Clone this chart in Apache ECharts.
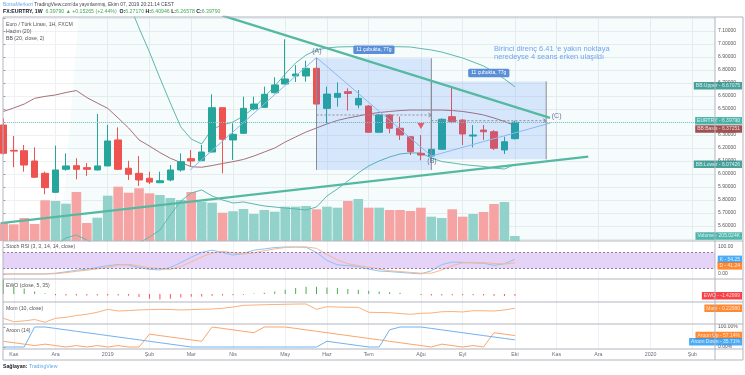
<!DOCTYPE html>
<html>
<head>
<meta charset="utf-8">
<script src="https://cdn.jsdelivr.net/npm/echarts@6/dist/echarts.min.js"></script>
<style>
html,body{margin:0;padding:0;background:#fff}
#chart{width:745px;height:375px}
</style>
</head>
<body>
<div id="chart"></div>
<script>
// weekly bars, first one is the week of 2018-10-28
const firstWeek = '2018-10-28';
const monthLabelWeeks = ['2018-11-04','2018-12-02','2019-01-06','2019-02-03','2019-03-03','2019-03-31','2019-05-05','2019-06-02','2019-06-30','2019-08-04','2019-09-01','2019-10-06','2019-11-03','2019-12-01','2020-01-05','2020-02-02'];
const monthLabels = ['Kas','Ara','2019','Şub','Mar','Nis','May','Haz','Tem','Ağu','Eyl','Eki','Kas','Ara','2020','Şub'];

const opens  = [6.377,6.182,6.179,6.100,6.005,5.859,6.036,6.064,6.049,6.031,6.062,6.262,6.044,6.005,5.967,5.933,5.954,6.031,6.118,6.102,6.169,6.510,6.262,6.313,6.500,6.513,6.625,6.692,6.754,6.754,6.813,6.505,6.590,6.633,6.531,6.523,6.321,6.454,6.352,6.287,6.159,6.138,6.190,6.441,6.415,6.292,6.338,6.325,6.185,6.2717];
const highs  = [6.428,6.292,6.223,6.205,6.018,6.218,6.159,6.121,6.084,6.462,6.377,6.359,6.102,6.138,6.018,6.018,6.069,6.159,6.185,6.223,6.613,6.512,6.390,6.595,6.595,6.672,6.744,7.036,6.838,6.872,6.890,6.672,6.705,6.659,6.646,6.530,6.462,6.462,6.441,6.290,6.300,6.195,6.428,6.667,6.423,6.377,6.377,6.338,6.287,6.40946];
const lows   = [6.150,6.052,6.018,5.970,5.844,5.855,6.025,5.959,5.985,6.028,6.060,6.030,5.954,5.908,5.923,5.930,5.944,6.018,6.062,6.100,6.165,6.005,6.108,6.310,6.490,6.510,6.620,6.690,6.708,6.710,6.535,6.390,6.518,6.487,6.505,6.318,6.318,6.313,6.262,6.146,6.105,6.120,6.185,6.390,6.223,6.205,6.262,6.185,6.154,6.26578];
const closes = [6.159,6.176,6.069,5.975,5.895,6.031,6.062,6.036,6.036,6.062,6.254,6.036,5.998,5.954,5.938,5.948,6.031,6.095,6.100,6.169,6.510,6.267,6.305,6.505,6.538,6.613,6.685,6.731,6.769,6.813,6.538,6.615,6.620,6.620,6.582,6.321,6.454,6.352,6.300,6.172,6.146,6.190,6.421,6.402,6.308,6.300,6.325,6.198,6.248,6.3979];
const volumesK = [752,686,945,698,1672,1643,1532,2012,739,957,1860,2230,1984,2164,1959,1889,1766,1684,2012,1614,1573,1162,1220,1314,1109,1273,1203,1409,1409,1437,1302,1409,1368,1643,1725,1368,1368,1273,1273,1232,1368,998,945,1302,998,1109,1191,1520,1602,205.024];

const bbUpper = [7.95,7.98,8.00,7.98,7.95,7.90,7.85,7.80,7.72,7.62,7.50,7.40,7.32,7.123,6.938,6.738,6.546,6.362,6.269,6.231,6.346,6.377,6.400,6.446,6.508,6.592,6.677,6.769,6.854,6.915,6.954,6.969,6.977,6.979,6.979,6.979,6.979,6.979,6.979,6.977,6.965,6.954,6.938,6.915,6.892,6.862,6.831,6.785,6.731,6.67075];
const bbBasis = [6.481,6.508,6.538,6.582,6.597,6.608,6.627,6.642,6.588,6.546,6.505,6.431,6.354,6.262,6.215,6.165,6.121,6.088,6.056,6.052,6.065,6.081,6.095,6.112,6.138,6.169,6.200,6.246,6.285,6.323,6.354,6.385,6.412,6.431,6.446,6.462,6.473,6.481,6.488,6.492,6.492,6.492,6.492,6.488,6.481,6.469,6.454,6.431,6.404,6.37251];
const bbLower = [5.20,5.25,5.30,5.35,5.40,5.45,5.508,5.531,5.492,5.45,5.40,5.35,5.35,5.469,5.515,5.569,5.685,5.792,5.854,5.877,5.831,5.800,5.777,5.785,5.769,5.754,5.746,5.738,5.731,5.723,5.746,5.831,5.885,5.946,6.008,6.062,6.100,6.131,6.154,6.162,6.162,6.123,6.096,6.085,6.073,6.065,6.058,6.046,6.038,6.07426];

const stochK = [0,0,0,0,0.5,3,8,14,18,24,31,35,33,24,17,15,24,42,62,80,88,80,70,76,88,93,98,100,100,99,80,50,34,31,28,18,11,9,6,3,0.5,12,35,44,43,41,40,32,38,54.25];
const stochD = [0,0,0,0,0,1,5,10,14,19,25,33,36,30,23,20,17,28,45,63,78,84,78,74,78,86,93,98,100,100,95,72,52,38,31,25,18,12,9,6,3,3,15,31,41,43,42,39,37,41.24];
const ewo = [12,6,4.5,2,0.6,-1,-1.2,-1.2,-1.3,-1.3,-1.2,-1.3,-1.5,-2.5,-4,-4.5,-4,-3,-2.3,-2,-1.5,-1.2,-1,-0.6,0.4,1,2,3.5,5,6,6,5.5,5,4.2,3.5,2.8,2,1.5,1,0.1,-0.9,-1.2,-1.2,-1,-1,-1.1,-1.2,-1.4,-1.6,-1.42999];
const mom = [-0.72,-1.05,-0.97,-0.84,-1.10,-0.72,-0.63,-0.46,-0.34,-0.15,0.13,-0.03,0.01,0.07,0.10,0.13,0.11,0.07,0.10,0.13,0.16,0.23,0.35,0.51,0.54,0.57,0.59,0.61,0.63,0.64,0.13,0.38,0.35,0.33,0.32,-0.15,-0.17,-0.19,-0.27,-0.34,-0.25,-0.22,-0.10,-0.08,-0.12,0.00,-0.01,-0.03,0.07,0.2299];
const aroonUp = [28.57,21.43,14.29,7.14,14.29,7.14,0,7.14,0,7.14,0,7.14,0,0,64.29,57.14,50,42.86,35.71,28.57,100,92.86,85.71,78.57,71.43,100,100,100,92.86,85.71,78.57,71.43,64.29,57.14,50,42.86,35.71,28.57,21.43,14.29,7.14,0,14.29,7.14,0,7.14,0,71.43,64.29,57.14];
const aroonDown = [0,0,0,100,100,92.86,85.71,78.57,71.43,64.29,57.14,50,42.86,35.71,28.57,21.43,14.29,7.14,0,0,0,0,0,0,0,0,0,0,0,0,0,28.57,21.43,14.29,7.14,0,0,85.71,100,100,100,92.86,85.71,78.57,71.43,64.29,57.14,50,42.86,35.71];

const priceTicks = [5.5,5.6,5.7,5.8,5.9,6.0,6.1,6.2,6.3,6.4,6.5,6.6,6.7,6.8,6.9,7.0,7.1,7.2];
const priceLabels = [5.6,5.7,5.8,5.9,6.0,6.1,6.2,6.3,6.4,6.5,6.6,6.7,6.8,6.9,7.0,7.1];

// drawings (bar index, price)
const trendUp = [[-0.4,5.620],[56.03,6.133]];
const trendDown = [[21.0,7.2185],[52.37,6.431]];
const zigzag = [[17.9,6.031],[30,6.896],[41,6.138],[52.4,6.392]];
const waveLabels = [['(A)',30.04,6.946],['(B)',41.06,6.10],['(C)',53.0,6.446]];
const signalArrow = [[40,6.369]];
// [from, to, top, bottom, mid]
const rangeBoxes = [[30,41,6.89,6.031,6.454],[41,52,6.712,6.113,6.41]];
const rangeText = '11 çubukta, 77g';

const FONT = '"Liberation Sans", Arial, sans-serif';
const FS = 5.2;
const UP = '#26a69a', DOWN = '#ef5350';
const day = 864e5;
const weekIdx = d => Math.round((Date.parse(d + 'T00:00:00Z') - Date.parse(firstWeek + 'T00:00:00Z')) / (7 * day));
const monthTicks = monthLabelWeeks.map(weekIdx);

const xMin = -0.03, xMax = xMin + 712 / 10.44;
const grids = [
  {left: 3, right: 30, top: 17, height: 224},
  {left: 3, right: 30, top: 241, height: 38},
  {left: 3, right: 30, top: 279, height: 23},
  {left: 3, right: 30, top: 302, height: 22},
  {left: 3, right: 30, top: 324, height: 25}
];

function xAxisFor(i) {
  const last = i === grids.length - 1;
  return {
    type: 'value', gridIndex: i, min: xMin, max: xMax,
    axisLine: {show: false},
    axisTick: {show: false, customValues: monthTicks},
    axisLabel: {
      show: last, customValues: monthTicks, margin: 3, fontSize: 5.3, color: '#6b6e78', fontFamily: FONT,
      formatter: v => monthLabels[monthTicks.indexOf(Math.round(v))] || ''
    },
    splitLine: {show: true, lineStyle: {color: '#eef0f3', width: 1}}
  };
}

const candleData = closes.map((c, i) => [i, opens[i], c, lows[i], highs[i]]);
const volData = volumesK.map((v, i) => ({
  value: [i, v],
  itemStyle: {color: closes[i] >= opens[i] ? '#92d2cb' : '#f5a4a3'}
}));
const idxLine = arr => arr.map((v, i) => [i, v]);

function tag(xi, yi, value, text, color, dy, dx) {
  return {
    type: 'scatter', xAxisIndex: xi, yAxisIndex: yi, symbolSize: 0, silent: true, z: 30, clip: false,
    data: [[xMax, value]],
    label: {
      show: true, position: 'inside', align: 'right', offset: [dx || 27, dy || 0],
      formatter: text, backgroundColor: color, color: '#fff', fontSize: 5, fontFamily: FONT,
      padding: [1, 2, 0.5, 2], lineHeight: 6
    }
  };
}

const option = {
  animation: false,
  backgroundColor: '#fff',
  grid: grids,
  xAxis: grids.map((g, i) => xAxisFor(i)),
  yAxis: [
    {type: 'value', gridIndex: 0, position: 'right', min: 5.4846, max: 7.2077,
      axisLine: {show: false},
      axisTick: {show: true, length: 2, customValues: priceTicks, lineStyle: {color: '#9598a1'}},
      axisLabel: {customValues: priceLabels, formatter: v => v.toFixed(5), fontSize: 5, color: '#555', margin: 3, fontFamily: FONT},
      splitLine: {show: true, lineStyle: {color: '#eef0f3'}}},
    {type: 'value', gridIndex: 0, min: 0, max: 9200, show: false},
    {type: 'value', gridIndex: 1, position: 'right', min: -18.5, max: 122.2,
      axisLine: {show: false},
      axisTick: {show: true, length: 2, customValues: [0, 100], lineStyle: {color: '#9598a1'}},
      axisLabel: {customValues: [0, 100], formatter: v => v.toFixed(2), fontSize: 5, color: '#555', margin: 3, fontFamily: FONT},
      splitLine: {show: false}},
    {type: 'value', gridIndex: 2, min: -6.67, max: 12.5, show: false},
    {type: 'value', gridIndex: 3, min: -1.267, max: 0.829, show: false},
    {type: 'value', gridIndex: 4, position: 'right', min: -10, max: 115,
      axisLine: {show: false},
      axisTick: {show: true, length: 2, customValues: [0, 100], lineStyle: {color: '#9598a1'}},
      axisLabel: {customValues: [0, 100], formatter: v => v.toFixed(2) + '%', fontSize: 5, color: '#555', margin: 3, fontFamily: FONT},
      splitLine: {show: false}}
  ],
  series: [
    // Bollinger fill
    {type: 'line', xAxisIndex: 0, yAxisIndex: 0, stack: 'bb', symbol: 'none', silent: true, z: 1,
      lineStyle: {width: 0}, data: idxLine(bbLower)},
    {type: 'line', xAxisIndex: 0, yAxisIndex: 0, stack: 'bb', symbol: 'none', silent: true, z: 1,
      lineStyle: {width: 0}, areaStyle: {color: 'rgba(38,166,154,0.06)'},
      data: bbUpper.map((u, i) => [i, u - bbLower[i]])},
    {type: 'bar', xAxisIndex: 0, yAxisIndex: 1, barWidth: 9.6, z: 2, data: volData},
    {type: 'line', xAxisIndex: 0, yAxisIndex: 0, symbol: 'none', z: 3, lineStyle: {color: '#5db8ae', width: 1}, data: idxLine(bbUpper)},
    {type: 'line', xAxisIndex: 0, yAxisIndex: 0, symbol: 'none', z: 3, lineStyle: {color: '#5db8ae', width: 1}, data: idxLine(bbLower)},
    {type: 'line', xAxisIndex: 0, yAxisIndex: 0, symbol: 'none', z: 3, lineStyle: {color: '#a8707a', width: 1}, data: idxLine(bbBasis)},
    {type: 'candlestick', xAxisIndex: 0, yAxisIndex: 0, barWidth: 7, z: 4,
      encode: {x: 0, y: [1, 2, 3, 4]},
      itemStyle: {color: UP, color0: DOWN, borderColor: UP, borderColor0: DOWN, borderWidth: 1},
      data: candleData,
      markLine: {silent: true, symbol: 'none', label: {show: false},
        lineStyle: {color: '#7fcbc2', type: 'dotted', width: 1},
        data: [{yAxis: closes[closes.length - 1]}]}},
    // date range boxes
    {type: 'custom', xAxisIndex: 0, yAxisIndex: 0, z: 6, silent: true,
      renderItem: (params, api) => {
        const p1 = api.coord([api.value(0), api.value(2)]);
        const p2 = api.coord([api.value(1), api.value(3)]);
        const pm = api.coord([api.value(1), api.value(4)]);
        const cx = (p1[0] + p2[0]) / 2;
        return {type: 'group', children: [
          {type: 'rect', shape: {x: p1[0], y: p1[1], width: p2[0] - p1[0], height: p2[1] - p1[1]},
            style: {fill: 'rgba(41,121,255,0.15)'}},
          {type: 'line', shape: {x1: p1[0], y1: p1[1], x2: p1[0], y2: p2[1]}, style: {stroke: '#8a8d96', lineWidth: 1}},
          {type: 'line', shape: {x1: p2[0], y1: p1[1], x2: p2[0], y2: p2[1]}, style: {stroke: '#8a8d96', lineWidth: 1}},
          {type: 'line', shape: {x1: p1[0], y1: pm[1], x2: p2[0], y2: pm[1]}, style: {stroke: '#8a8d96', lineWidth: 1, lineDash: [2, 2]}},
          {type: 'polyline', shape: {points: [[p2[0] - 3, pm[1] - 2], [p2[0], pm[1]], [p2[0] - 3, pm[1] + 2]]}, style: {stroke: '#8a8d96', lineWidth: 1, fill: null}},
          {type: 'text', x: cx, y: p1[1] - 8.5, style: {text: rangeText, fill: '#fff', font: '5px ' + FONT,
            align: 'center', verticalAlign: 'middle', backgroundColor: '#5b8ed8', padding: [2, 3, 1.5, 3], borderRadius: 1.5}}
        ]};
      },
      data: rangeBoxes},
    // trend lines
    {type: 'line', xAxisIndex: 0, yAxisIndex: 0, symbol: 'none', z: 7, lineStyle: {color: '#55b9a2', width: 2.3}, data: trendUp},
    {type: 'line', xAxisIndex: 0, yAxisIndex: 0, symbol: 'none', z: 7, lineStyle: {color: '#55b9a2', width: 2.3}, data: trendDown},
    {type: 'line', xAxisIndex: 0, yAxisIndex: 0, symbol: 'none', z: 7, lineStyle: {color: '#8cb8f2', width: 1}, data: zigzag},
    {type: 'scatter', xAxisIndex: 0, yAxisIndex: 0, z: 8, symbol: 'triangle', symbolRotate: 180, symbolSize: [7, 6],
      itemStyle: {color: '#f23645'}, data: signalArrow},
    {type: 'scatter', xAxisIndex: 0, yAxisIndex: 0, z: 8, symbolSize: 0, clip: false,
      label: {show: true, position: 'inside', formatter: p => p.data[2], color: '#43527f', fontSize: 7, fontFamily: FONT},
      data: waveLabels.map(w => [w[1], w[2], w[0]])},
    // Stoch RSI
    {type: 'line', xAxisIndex: 1, yAxisIndex: 2, symbol: 'none', z: 3, lineStyle: {color: '#8ec3f5', width: 1}, data: idxLine(stochK),
      markArea: {silent: true, itemStyle: {color: '#e5d4f8'}, data: [[{yAxis: 20}, {yAxis: 80}]]},
      markLine: {silent: true, symbol: 'none', label: {show: false}, lineStyle: {color: '#8c7f9c', type: [2, 2], width: 1},
        data: [{yAxis: 20}, {yAxis: 80}]}},
    {type: 'line', xAxisIndex: 1, yAxisIndex: 2, symbol: 'none', z: 3, lineStyle: {color: '#f7b88f', width: 1}, data: idxLine(stochD)},
    // EWO
    {type: 'bar', xAxisIndex: 2, yAxisIndex: 3, barWidth: 1, z: 3,
      data: ewo.map((v, i) => ({value: [i, v], itemStyle: {color: v >= 0 ? '#4caf50' : '#ff5252'}}))},
    // Momentum
    {type: 'line', xAxisIndex: 3, yAxisIndex: 4, symbol: 'none', z: 3, lineStyle: {color: '#f7b07c', width: 1}, data: idxLine(mom)},
    // Aroon
    {type: 'line', xAxisIndex: 4, yAxisIndex: 5, symbol: 'none', z: 3, lineStyle: {color: '#f9a66c', width: 1}, data: idxLine(aroonUp)},
    {type: 'line', xAxisIndex: 4, yAxisIndex: 5, symbol: 'none', z: 3, lineStyle: {color: '#6fb2f2', width: 1}, data: idxLine(aroonDown)},
    // value tags on the right
    tag(0, 0, bbUpper[49], 'BB:Upper - ' + bbUpper[49].toFixed(5), '#1b8c83', -1),
    tag(0, 0, closes[49], 'EURTRY - ' + closes[49].toFixed(5), '#26a69a', -1.5),
    tag(0, 0, bbBasis[49], 'BB:Basis - ' + bbBasis[49].toFixed(5), '#8c2424', 3.5),
    tag(0, 0, bbLower[49], 'BB:Lower - ' + bbLower[49].toFixed(5), '#1b8c83', 0),
    tag(0, 1, volumesK[49], 'Volume - ' + volumesK[49].toFixed(3) + 'K', '#26a69a', 0),
    tag(1, 2, stochK[49], 'K - ' + stochK[49].toFixed(2), '#2196f3', 0),
    tag(1, 2, stochD[49], 'D - ' + stochD[49].toFixed(2), '#ff6d00', 3),
    tag(2, 3, ewo[49], 'EWO - ' + ewo[49].toFixed(5), '#f8121a', 0),
    tag(3, 4, mom[49], 'Mom - ' + mom[49].toFixed(5), '#ff6d00', 0),
    tag(4, 5, aroonUp[49], 'Aroon Up - ' + aroonUp[49].toFixed(2) + '%', '#ff6d00', 0),
    tag(4, 5, aroonDown[49], 'Aroon Down - ' + aroonDown[49].toFixed(2) + '%', '#2196f3', 2)
  ],
  graphic: [
    {type: 'text', left: 3, top: 2, z: 100, style: {
      text: '{b|BorsaMerkezi} TradingView.com\'da yayınlanmış, Ekim 07, 2019 20:21:14 CEST',
      font: '4.9px ' + FONT, fill: '#434651', rich: {b: {fill: '#6aa9ec', font: '4.9px ' + FONT}}}},
    {type: 'text', left: 3, top: 9, z: 100, style: {
      text: '{k|FX:EURTRY, 1W}  {g|6.39790 ▲ +0.15265 (+2.44%)}  {k|O:}{g|6.27170} {k|H:}{g|6.40946} {k|L:}{g|6.26578} {k|C:}{g|6.39790}',
      font: FS + 'px ' + FONT, rich: {
        k: {fill: '#131722', font: 'bold ' + FS + 'px ' + FONT},
        g: {fill: '#3fa857', font: FS + 'px ' + FONT}}}},
    {type: 'text', left: 6, top: 22, z: 100, style: {text: 'Euro / Türk Lirası, 1H, FXCM', font: FS + 'px ' + FONT, fill: '#555'}},
    {type: 'text', left: 6, top: 29, z: 100, style: {text: 'Hacim (20)', font: FS + 'px ' + FONT, fill: '#555'}},
    {type: 'text', left: 6, top: 36, z: 100, style: {text: 'BB (20, close, 2)', font: FS + 'px ' + FONT, fill: '#555'}},
    {type: 'text', left: 6, top: 244, z: 100, style: {text: 'Stoch RSI (3, 3, 14, 14, close)', font: FS + 'px ' + FONT, fill: '#555'}},
    {type: 'text', left: 6, top: 283, z: 100, style: {text: 'EWO (close, 5, 35)', font: FS + 'px ' + FONT, fill: '#555'}},
    {type: 'text', left: 6, top: 306, z: 100, style: {text: 'Mom (10, close)', font: FS + 'px ' + FONT, fill: '#555'}},
    {type: 'text', left: 6, top: 328, z: 100, style: {text: 'Aroon (14)', font: FS + 'px ' + FONT, fill: '#555'}},
    {type: 'text', left: 494, top: 45, z: 100, style: {
      text: 'Birinci direnç 6.41 \'e yakın noktaya\nneredeyse 4 seans erken ulaşıldı',
      font: '7.5px ' + FONT, fill: '#6ea6ef', lineHeight: 8}},
    {type: 'text', left: 3, top: 364, z: 100, style: {
      text: '{k|Sağlayan:} {t|TradingView}', font: FS + 'px ' + FONT,
      rich: {k: {fill: '#131722', font: 'bold ' + FS + 'px ' + FONT}, t: {fill: '#5fa8e8', font: FS + 'px ' + FONT}}}},
    // frame and pane separators
    {type: 'rect', z: 90, shape: {x: 3, y: 17, width: 740, height: 343}, style: {fill: null, stroke: '#b2b5be', lineWidth: 1}},
    {type: 'line', z: 90, shape: {x1: 3, y1: 241, x2: 743, y2: 241}, style: {stroke: '#b2b5be', lineWidth: 1}},
    {type: 'line', z: 90, shape: {x1: 3, y1: 279, x2: 743, y2: 279}, style: {stroke: '#b2b5be', lineWidth: 1}},
    {type: 'line', z: 90, shape: {x1: 3, y1: 302, x2: 743, y2: 302}, style: {stroke: '#b2b5be', lineWidth: 1}},
    {type: 'line', z: 90, shape: {x1: 3, y1: 324, x2: 743, y2: 324}, style: {stroke: '#b2b5be', lineWidth: 1}},
    {type: 'line', z: 90, shape: {x1: 3, y1: 349, x2: 743, y2: 349}, style: {stroke: '#b2b5be', lineWidth: 1}},
    {type: 'line', z: 90, shape: {x1: 715, y1: 17, x2: 715, y2: 360}, style: {stroke: '#b2b5be', lineWidth: 1}}
  ]
};

const chart = echarts.init(document.getElementById('chart'));
chart.setOption(option);
</script>
</body>
</html>
